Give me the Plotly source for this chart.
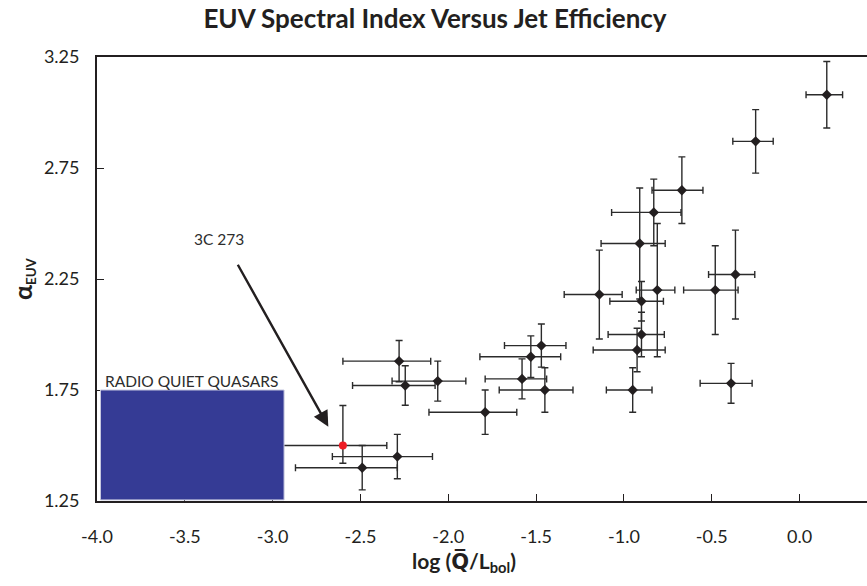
import plotly.graph_objects as go

# ---- data ----
log_q_lbol = [-2.49, -2.29, -2.28, -2.245, -2.06, -1.79, -1.58, -1.53, -1.47, -1.45,
              -1.14, -0.95, -0.925, -0.90, -0.90, -0.91, -0.83, -0.81, -0.67, -0.48,
              -0.365, -0.39, -0.25, 0.155]
alpha_euv = [1.40, 1.45, 1.88, 1.77, 1.79, 1.65, 1.80, 1.90, 1.95, 1.75,
             2.18, 1.75, 1.93, 2.00, 2.15, 2.41, 2.55, 2.20, 2.65, 2.20,
             2.27, 1.78, 2.87, 3.08]
x_err_minus = [0.38, 0.37, 0.32, 0.30, 0.26, 0.32, 0.21, 0.29, 0.21, 0.26,
               0.20, 0.15, 0.25, 0.19, 0.18, 0.22, 0.24, 0.12, 0.17, 0.18,
               0.153, 0.176, 0.13, 0.118]
x_err_plus = [0.20, 0.20, 0.18, 0.17, 0.16, 0.18, 0.14, 0.17, 0.14, 0.16,
              0.13, 0.11, 0.16, 0.13, 0.125, 0.145, 0.155, 0.10, 0.12, 0.13,
              0.11, 0.12, 0.10, 0.09]
y_err = [0.10, 0.10, 0.093, 0.089, 0.09, 0.10, 0.09, 0.094, 0.097, 0.10,
         0.20, 0.10, 0.098, 0.10, 0.089, 0.25, 0.15, 0.30, 0.15, 0.20,
         0.20, 0.09, 0.143, 0.15]

# 3C 273
q3c273_x = [-2.60]
q3c273_y = [1.50]
q3c273_xm = [0.45]
q3c273_xp = [0.25]
q3c273_ym = [0.08]
q3c273_yp = [0.18]

# radio quiet quasar region
rqq_x = [-3.98, -2.935]
rqq_y = [1.255, 1.75]

x_tick_vals = [-4.0, -3.5, -3.0, -2.5, -2.0, -1.5, -1.0, -0.5, 0.0]
x_tick_text = ["-4.0", "-3.5", "-3.0", "-2.5", "-2.0", "-1.5", "-1.0", "-0.5", "0.0"]
y_tick_vals = [1.25, 1.75, 2.25, 2.75, 3.25]
y_tick_text = ["1.25", "1.75", "2.25", "2.75", "3.25"]

FONT = "Lato"
TXT = "#231F20"

fig = go.Figure()

err_style = dict(color="#2b2b2b", thickness=1.4, width=3.5)

fig.add_trace(go.Scatter(
    x=q3c273_x, y=q3c273_y, mode="markers",
    marker=dict(symbol="circle", size=8, color="#ED1C24"),
    error_x=dict(type="data", symmetric=False, array=q3c273_xp, arrayminus=q3c273_xm, **err_style),
    error_y=dict(type="data", symmetric=False, array=q3c273_yp, arrayminus=q3c273_ym, **err_style),
    showlegend=False, hoverinfo="x+y"))

fig.add_trace(go.Scatter(
    x=log_q_lbol, y=alpha_euv, mode="markers",
    marker=dict(symbol="diamond", size=8, color=TXT),
    error_x=dict(type="data", symmetric=False, array=x_err_plus, arrayminus=x_err_minus, **err_style),
    error_y=dict(type="data", array=y_err, **err_style),
    showlegend=False, hoverinfo="x+y"))

fig.add_shape(type="rect", xref="x", yref="y",
              x0=rqq_x[0], x1=rqq_x[1], y0=rqq_y[0], y1=rqq_y[1],
              fillcolor="#353B95", line=dict(color="#C5C7DF", width=1), layer="above")

annotations = [
    dict(x=-3.966, y=1.79, xref="x", yref="y", text="RADIO QUIET QUASARS", showarrow=False,
         xanchor="left", yanchor="middle", font=dict(family=FONT, size=15.5, color="#2d2d2d")),
    dict(x=-3.308, y=2.43, xref="x", yref="y", text="3C 273", showarrow=False,
         xanchor="center", yanchor="middle", font=dict(family=FONT, size=15.5, color="#2d2d2d")),
    dict(x=-2.683, y=1.585, xref="x", yref="y", ax=-3.203, ay=2.321, axref="x", ayref="y",
         text="", showarrow=True, arrowhead=2, arrowsize=1.3, arrowwidth=2.4, arrowcolor=TXT),
    # x-axis title
    dict(x=(464 - 97) / 770, y=-(562 - 501) / 444, xref="paper", yref="paper",
         text="<b>log (<span style=\"font-family:'DejaVu Sans'\">Q\u0305</span>/L<sub>bol</sub>)</b>",
         showarrow=False, xanchor="center", yanchor="middle",
         font=dict(family=FONT, size=21, color=TXT)),
    # y-axis title
    dict(x=-(97 - 23) / 770, y=0.5, xref="paper", yref="paper",
         text="<b><span style=\"font-size:25px\">α</span><sub>EUV</sub></b>", showarrow=False,
         textangle=-90, xanchor="center", yanchor="middle",
         font=dict(family=FONT, size=19, color=TXT)),
]

fig.update_layout(
    width=867, height=586,
    margin=dict(l=97, r=0, t=57, b=85),
    paper_bgcolor="white", plot_bgcolor="white",
    title=dict(text="<b>EUV Spectral Index Versus Jet Efficiency</b>",
               x=435 / 867, xref="container", xanchor="center",
               y=1 - 19 / 586, yref="container", yanchor="middle",
               font=dict(family=FONT, size=26, color=TXT)),
    annotations=annotations,
    font=dict(family=FONT, color=TXT),
)

fig.update_xaxes(range=[-4, 0.384], tickvals=x_tick_vals, ticktext=x_tick_text,
                 ticks="inside", ticklen=7, tickwidth=1.3, tickcolor=TXT,
                 showline=True, linecolor=TXT, linewidth=1.8, mirror=True,
                 showgrid=False, zeroline=False, ticklabelstandoff=18,
                 tickfont=dict(family=FONT, size=18, color=TXT))
fig.update_yaxes(range=[1.25, 3.25], tickvals=y_tick_vals, ticktext=y_tick_text,
                 ticks="inside", ticklen=7, tickwidth=1.3, tickcolor=TXT,
                 showline=True, linecolor=TXT, linewidth=1.8, mirror=False,
                 showgrid=False, zeroline=False, ticklabelstandoff=12,
                 tickfont=dict(family=FONT, size=18, color=TXT))

fig.write_html("out.html")
